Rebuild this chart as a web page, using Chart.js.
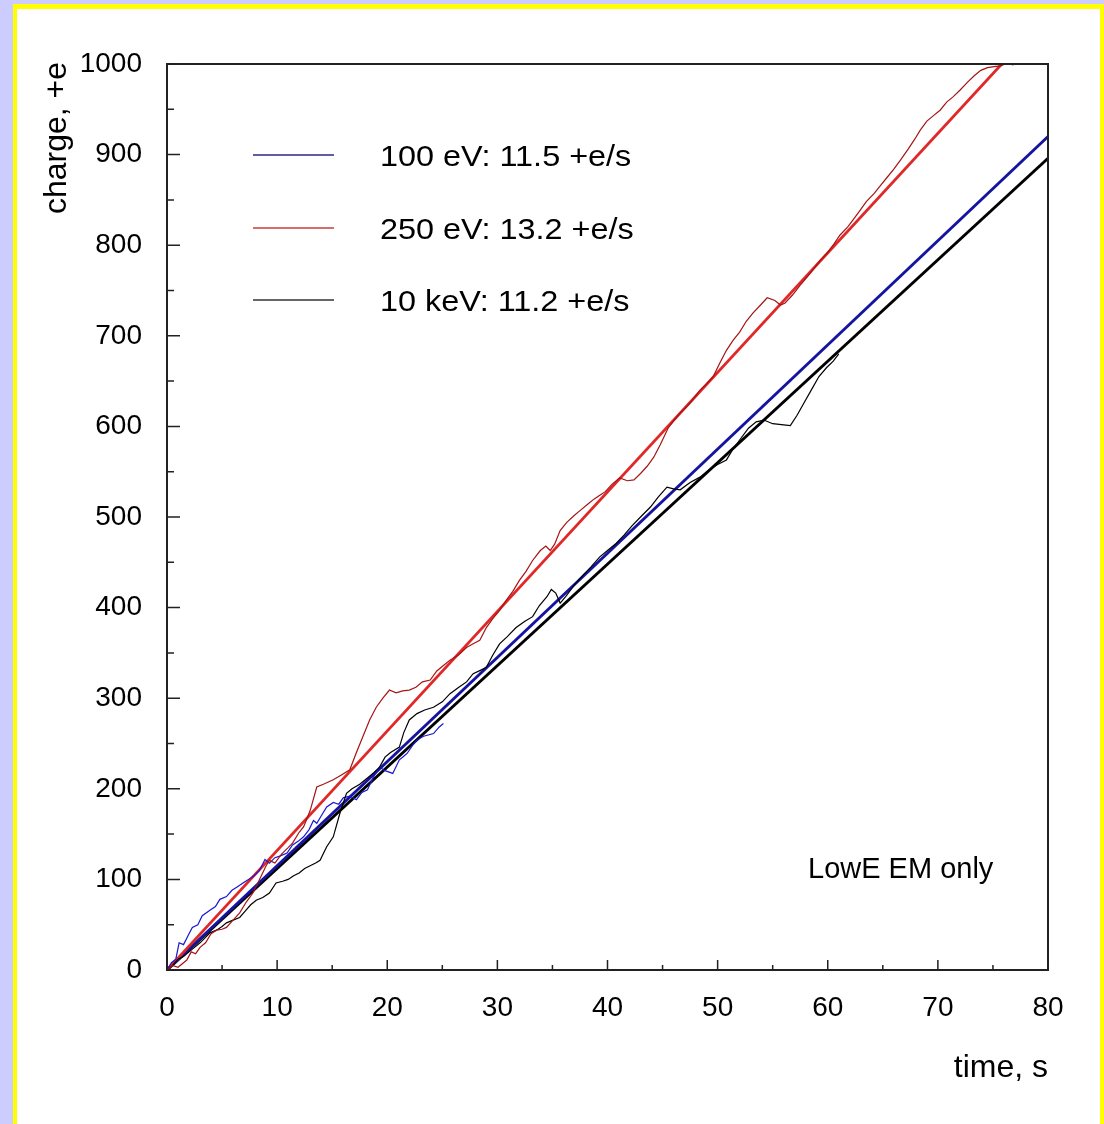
<!DOCTYPE html>
<html lang="en">
<head>
    <meta charset="UTF-8">
    <title>Charge vs time</title>
    <style>
        body {
            margin: 0;
            padding: 0;
            background-color: #ccccff;
        }
        canvas {
            display: block;
        }
    </style>
</head>
<body>
    <canvas id="chargeChart" width="1104" height="1124"></canvas>

    <script src="https://cdn.jsdelivr.net/npm/chart.js"></script>
    <script>
        // axis ticks
        const xTicks = [0, 10, 20, 30, 40, 50, 60, 70, 80];
        const xMinor = [5, 15, 25, 35, 45, 55, 65, 75];
        const yTicks = [0, 100, 200, 300, 400, 500, 600, 700, 800, 900, 1000];
        const yMinor = [50, 150, 250, 350, 450, 550, 650, 750, 850, 950];

        // legend / series names
        const seriesLabels = ['100 eV: 11.5 +e/s', '250 eV: 13.2 +e/s', '10 keV: 11.2 +e/s'];

        // fitted lines (end points)
        const blueFitTime = [0, 80];
        const blueFitCharge = [0, 920];
        const redFitTime = [0, 75.8];
        const redFitCharge = [0, 1000];
        const blackFitTime = [0, 80];
        const blackFitCharge = [0, 896];

        // single runs
        const blueTime = [0, 0.4, 0.8, 1.1, 1.5, 2.0, 2.3, 2.8, 3.2, 3.9, 4.4, 4.8, 5.4, 5.9, 6.4, 6.9, 7.4, 7.9, 8.4, 8.9,
            9.3, 9.8, 10.3, 10.9, 11.4, 11.9, 12.4, 12.9, 13.3, 13.6, 14.0, 14.5, 15.1, 15.6, 16.0, 16.6, 17.2, 17.7, 18.2,
            18.7, 19.3, 19.8, 20.5, 21.1, 21.5, 21.8, 22.3, 22.7, 23.3, 24.2, 24.7, 25.1];
        const blueCharge = [0, 8, 12, 30, 28, 40, 47, 50, 60, 66, 70, 78, 81, 88, 92, 96, 100, 104, 110, 122,
            118, 124, 126, 129, 138, 142, 147, 155, 165, 162, 170, 180, 185, 183, 190, 192, 188, 196, 199,
            212, 224, 220, 217, 232, 236, 239, 248, 254, 258, 261, 268, 272];

        const redTime = [0, 0.5, 1.0, 1.5, 1.8, 2.2, 2.6, 3.0, 3.5, 4.0, 4.5, 5.0, 5.4, 6.0, 6.6, 7.2, 7.8, 8.4, 9.0, 9.3,
            9.8, 10.4, 11.0, 11.4, 12.0, 12.4, 13.0, 13.6, 14.2, 15.1, 15.8, 16.6, 17.2, 17.8, 18.4, 19.0, 19.6, 20.2,
            20.8, 21.4, 22.0, 22.6, 23.2, 23.9, 24.5, 25.1, 25.7, 26.5, 27.2, 27.8, 28.4, 29.0, 29.6, 30.2, 30.8, 31.4,
            32.0, 32.6, 33.2, 33.9, 34.4, 34.8, 35.2, 35.7, 36.3, 37.0, 37.5, 38.2, 38.8, 39.3, 39.8, 40.4, 41.1, 41.8,
            42.4, 43.0, 43.6, 44.2, 44.8, 45.5, 46.0, 46.6, 47.2, 47.8, 48.4, 49.0, 49.6, 50.2, 50.8, 51.4, 52.0, 52.6,
            53.2, 53.9, 54.5, 55.2, 55.7, 56.1, 56.8, 57.5, 58.2, 58.8, 59.3, 60.0, 60.6, 61.1, 61.8, 62.3, 62.9, 63.5,
            64.2, 64.8, 65.4, 66.0, 66.6, 67.3, 67.9, 68.4, 69.0, 69.6, 70.2, 70.8, 71.4, 72.0, 72.7, 73.3, 73.9, 74.5,
            75.1, 75.7, 76.3, 76.8, 77.3];
        const redCharge = [0, 5, 3, 8, 11, 20, 18, 25, 30, 40, 44, 45, 47, 55, 63, 75, 85, 100, 115, 121,
            118, 128, 135, 140, 152, 158, 176, 202, 205, 210, 215, 221, 240, 258, 276, 290, 300, 309,
            306, 308, 309, 312, 318, 320, 330, 336, 342, 348, 356, 360, 364, 378, 388, 397, 408, 418,
            430, 440, 452, 463, 468, 463, 470, 485, 494, 502, 507, 514, 520, 524, 528, 536, 543, 540,
            541, 548, 556, 566, 580, 598, 606, 615, 622, 630, 640, 647, 655, 670, 684, 695, 704, 716,
            725, 734, 742, 739, 734, 736, 745, 756, 766, 775, 783, 792, 802, 811, 820, 828, 838, 848,
            857, 866, 875, 884, 894, 906, 917, 927, 937, 943, 949, 958, 964, 971, 980, 987, 993, 996,
            997, 998, 1001, 999, 1002];

        const blackTime = [0, 0.5, 1.0, 1.5, 2.0, 2.5, 3.0, 3.5, 3.9, 4.5, 5.0, 5.4, 6.0, 6.6, 7.1, 7.6, 8.1, 8.7, 9.3, 9.9,
            10.5, 11.0, 11.5, 12.0, 12.5, 13.0, 13.5, 13.9, 14.5, 15.1, 15.7, 16.3, 16.8, 17.5, 18.2, 18.8, 19.3, 19.8,
            20.3, 21.1, 21.5, 22.0, 22.7, 23.4, 24.2, 25.0, 25.7, 26.5, 27.2, 27.8, 28.5, 29.0, 29.6, 30.2, 30.9, 31.7,
            32.5, 33.2, 33.8, 34.5, 34.9, 35.3, 35.7, 36.2, 37.0, 37.8, 38.5, 39.3, 40.0, 40.8, 41.5, 42.2, 43.0, 43.9,
            44.6, 45.4, 46.0, 46.6, 47.5, 48.4, 49.2, 50.0, 50.8, 51.4, 52.0, 52.8, 53.5, 54.2, 55.0, 55.8, 56.6, 57.2,
            57.8, 58.5, 59.2, 59.9, 60.5, 61.0];
        const blackCharge = [0, 5, 12, 15, 20, 25, 30, 36, 41, 44, 48, 52, 55, 58, 65, 72, 77, 80, 85, 96,
            98, 100, 104, 107, 112, 115, 118, 121, 136, 147, 173, 195, 200, 205, 212, 218, 224, 235,
            240, 246, 262, 276, 283, 287, 290, 296, 305, 312, 318, 327, 331, 334, 348, 360, 368, 378,
            385, 390, 402, 412, 420, 416, 405, 412, 425, 436, 445, 456, 463, 471, 480, 490, 500, 511,
            522, 533, 531, 530, 538, 544, 552, 558, 563, 575, 585, 598, 605, 607, 603, 602, 601, 612,
            625, 640, 655, 665, 672, 680];

        const toPoints = (times, values) => times.map((t, i) => ({ x: t, y: values[i] }));

        const FONT = "'Liberation Sans', Arial, sans-serif";

        const colors = {
            blueFit: 'rgb(20, 20, 160)',
            blueRun: 'rgb(25, 25, 210)',
            redFit: 'rgb(225, 40, 40)',
            redRun: 'rgb(165, 20, 20)',
            black: '#000000',
            legend: ['rgb(40, 40, 130)', 'rgb(200, 60, 60)', '#333333']
        };

        const frameAndText = {
            id: 'frameAndText',
            beforeDraw(chart) {
                const c = chart.ctx;
                c.save();
                c.fillStyle = '#ccccff';
                c.fillRect(0, 0, chart.width, chart.height);
                c.fillStyle = '#ffff00';
                c.fillRect(13, 4, chart.width - 13, chart.height - 4);
                c.fillStyle = '#ffffff';
                c.fillRect(17, 9, 1100 - 17, chart.height - 9);
                c.restore();
            },
            afterDraw(chart) {
                const c = chart.ctx;
                const a = chart.chartArea;
                const xs = chart.scales.x;
                const ys = chart.scales.y;
                c.save();

                // frame
                c.strokeStyle = '#222';
                c.lineWidth = 2;
                c.strokeRect(a.left, a.top, a.right - a.left, a.bottom - a.top);

                // ticks pointing inwards
                c.lineWidth = 1.5;
                c.beginPath();
                xTicks.forEach(v => { const p = xs.getPixelForValue(v); c.moveTo(p, a.bottom); c.lineTo(p, a.bottom - 10); });
                xMinor.forEach(v => { const p = xs.getPixelForValue(v); c.moveTo(p, a.bottom); c.lineTo(p, a.bottom - 5); });
                yTicks.forEach(v => { const p = ys.getPixelForValue(v); c.moveTo(a.left, p); c.lineTo(a.left + 13, p); });
                yMinor.forEach(v => { const p = ys.getPixelForValue(v); c.moveTo(a.left, p); c.lineTo(a.left + 7, p); });
                c.stroke();

                // axis titles
                c.fillStyle = '#000';
                c.font = '32px ' + FONT;
                c.textAlign = 'right';
                c.textBaseline = 'alphabetic';
                c.fillText('time, s', a.right, 1077);

                c.save();
                c.translate(66, 62);
                c.rotate(-Math.PI / 2);
                c.textAlign = 'right';
                c.fillText('charge, +e', 0, 0);
                c.restore();

                // legend
                const rows = [155, 228, 300];
                seriesLabels.forEach((label, i) => {
                    c.strokeStyle = colors.legend[i];
                    c.lineWidth = 1.5;
                    c.beginPath();
                    c.moveTo(253, rows[i]);
                    c.lineTo(334, rows[i]);
                    c.stroke();
                    c.save();
                    c.translate(380, rows[i] + 11);
                    c.scale(1.08, 1);
                    c.font = '30px ' + FONT;
                    c.textAlign = 'left';
                    c.textBaseline = 'alphabetic';
                    c.fillText(label, 0, 0);
                    c.restore();
                });

                // note
                c.font = '29px ' + FONT;
                c.textAlign = 'left';
                c.textBaseline = 'alphabetic';
                c.fillText('LowE EM only', 808, 878);

                c.restore();
            }
        };

        const lineSet = (times, values, color, width, order) => ({
            data: toPoints(times, values),
            showLine: true,
            borderColor: color,
            backgroundColor: color,
            borderWidth: width,
            pointRadius: 0,
            tension: 0,
            order: order
        });

        new Chart(document.getElementById('chargeChart'), {
            type: 'scatter',
            data: {
                datasets: [
                    lineSet(redTime, redCharge, colors.redRun, 1.2, 0),
                    lineSet(blackTime, blackCharge, colors.black, 1.2, 0),
                    lineSet(blueTime, blueCharge, colors.blueRun, 1.2, 0),
                    lineSet(redFitTime, redFitCharge, colors.redFit, 2.8, 1),
                    lineSet(blueFitTime, blueFitCharge, colors.blueFit, 2.8, 1),
                    lineSet(blackFitTime, blackFitCharge, colors.black, 2.8, 1)
                ]
            },
            options: {
                responsive: false,
                animation: false,
                layout: {
                    padding: { left: 17, top: 64, right: 56, bottom: 0 }
                },
                scales: {
                    x: {
                        type: 'linear',
                        min: 0,
                        max: 80,
                        afterBuildTicks: s => { s.ticks = xTicks.map(v => ({ value: v })); },
                        afterFit: s => { s.height = 154; },
                        grid: { display: false, drawTicks: false },
                        border: { display: false },
                        ticks: {
                            color: '#000',
                            padding: 21,
                            maxRotation: 0,
                            callback: v => String(v),
                            font: { family: FONT, size: 28 }
                        }
                    },
                    y: {
                        type: 'linear',
                        min: 0,
                        max: 1000,
                        afterBuildTicks: s => { s.ticks = yTicks.map(v => ({ value: v })); },
                        afterFit: s => { s.width = 150; },
                        grid: { display: false, drawTicks: false },
                        border: { display: false },
                        ticks: {
                            color: '#000',
                            padding: 25,
                            callback: v => String(v),
                            font: { family: FONT, size: 28 }
                        }
                    }
                },
                plugins: {
                    legend: { display: false },
                    tooltip: { enabled: false }
                }
            },
            plugins: [frameAndText]
        });
    </script>
</body>
</html>
